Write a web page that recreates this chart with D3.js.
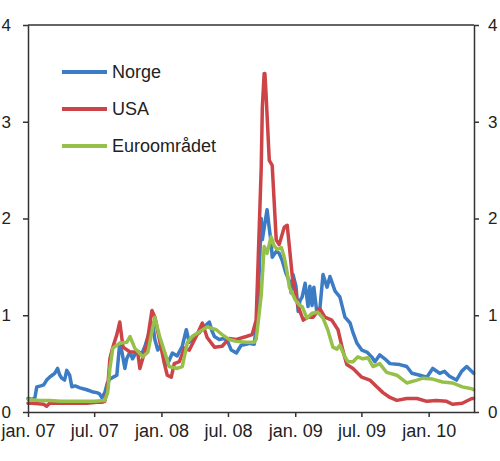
<!DOCTYPE html>
<html>
<head>
<meta charset="utf-8">
<script src="https://cdn.jsdelivr.net/npm/d3@7"></script>
<style>
  html, body { margin: 0; padding: 0; background: #fff; }
  svg { display: block; font-family: 'Liberation Sans', Arial, sans-serif; }
</style>
</head>
<body>
<svg id="chart" width="500" height="461"></svg>
<script>
'use strict';

// ── data (percentage points) ─────────────────────────────────────────────────
const norge = [
  ['2007-01-01', 0.14], ['2007-01-14', 0.13], ['2007-01-20', 0.15], ['2007-01-25', 0.26],
  ['2007-02-05', 0.27], ['2007-02-13', 0.28], ['2007-02-21', 0.33], ['2007-03-01', 0.36],
  ['2007-03-08', 0.38], ['2007-03-15', 0.40], ['2007-03-23', 0.45], ['2007-03-28', 0.39],
  ['2007-04-03', 0.35], ['2007-04-11', 0.33], ['2007-04-17', 0.43], ['2007-04-25', 0.38],
  ['2007-05-01', 0.26], ['2007-05-10', 0.27], ['2007-05-23', 0.25], ['2007-06-01', 0.24],
  ['2007-06-11', 0.23], ['2007-06-25', 0.21], ['2007-07-08', 0.20], ['2007-07-15', 0.19],
  ['2007-07-22', 0.15], ['2007-07-30', 0.20], ['2007-08-06', 0.30], ['2007-08-13', 0.34],
  ['2007-08-22', 0.36], ['2007-09-01', 0.38], ['2007-09-05', 0.55], ['2007-09-09', 0.71],
  ['2007-09-15', 0.62], ['2007-09-23', 0.45], ['2007-09-28', 0.55], ['2007-10-07', 0.62],
  ['2007-10-14', 0.55], ['2007-10-20', 0.59], ['2007-10-28', 0.63], ['2007-11-08', 0.60],
  ['2007-11-17', 0.68], ['2007-11-25', 0.78], ['2007-12-03', 0.85], ['2007-12-08', 0.92],
  ['2007-12-14', 0.75], ['2007-12-22', 0.64], ['2008-01-01', 0.70], ['2008-01-09', 0.61],
  ['2008-01-17', 0.49], ['2008-01-24', 0.55], ['2008-01-31', 0.61], ['2008-02-13', 0.58],
  ['2008-02-27', 0.68], ['2008-03-09', 0.85], ['2008-03-17', 0.72], ['2008-03-25', 0.75],
  ['2008-04-05', 0.80], ['2008-04-14', 0.82], ['2008-04-27', 0.88], ['2008-05-11', 0.93],
  ['2008-05-18', 0.84], ['2008-05-25', 0.78], ['2008-06-07', 0.75], ['2008-06-20', 0.76],
  ['2008-06-29', 0.74], ['2008-07-10', 0.64], ['2008-07-24', 0.61], ['2008-08-06', 0.69],
  ['2008-08-20', 0.70], ['2008-08-28', 0.71], ['2008-09-11', 0.70], ['2008-09-19', 0.98],
  ['2008-09-24', 1.40], ['2008-09-30', 2.00], ['2008-10-03', 1.78], ['2008-10-10', 1.95],
  ['2008-10-16', 2.09], ['2008-10-22', 1.90], ['2008-10-27', 1.75], ['2008-10-30', 1.60],
  ['2008-11-10', 1.66], ['2008-11-18', 1.64], ['2008-11-26', 1.57], ['2008-12-07', 1.43],
  ['2008-12-16', 1.35], ['2008-12-21', 1.23], ['2008-12-26', 1.42], ['2009-01-03', 1.30],
  ['2009-01-09', 1.04], ['2009-01-14', 1.15], ['2009-01-20', 1.19], ['2009-01-28', 1.33],
  ['2009-02-05', 1.09], ['2009-02-10', 1.30], ['2009-02-16', 1.10], ['2009-02-21', 1.29],
  ['2009-03-01', 1.03], ['2009-03-09', 1.05], ['2009-03-18', 1.42], ['2009-03-29', 1.29],
  ['2009-04-06', 1.40], ['2009-04-20', 1.25], ['2009-05-03', 1.19], ['2009-05-17', 0.98],
  ['2009-05-31', 0.92], ['2009-06-08', 0.82], ['2009-06-19', 0.71], ['2009-07-02', 0.64],
  ['2009-07-16', 0.62], ['2009-07-29', 0.57], ['2009-08-07', 0.52], ['2009-08-20', 0.59],
  ['2009-09-03', 0.55], ['2009-09-17', 0.50], ['2009-10-14', 0.49], ['2009-11-02', 0.47],
  ['2009-11-16', 0.40], ['2009-12-08', 0.38], ['2009-12-27', 0.36], ['2010-01-12', 0.45],
  ['2010-01-31', 0.40], ['2010-02-13', 0.42], ['2010-02-27', 0.37], ['2010-03-18', 0.33],
  ['2010-04-01', 0.42], ['2010-04-15', 0.47], ['2010-05-04', 0.40]
];

const usa = [
  ['2007-01-01', 0.09], ['2007-01-14', 0.09], ['2007-02-13', 0.08], ['2007-02-21', 0.06],
  ['2007-03-01', 0.09], ['2007-04-03', 0.09], ['2007-05-01', 0.09], ['2007-06-11', 0.09],
  ['2007-07-08', 0.10], ['2007-07-22', 0.10], ['2007-07-30', 0.11], ['2007-08-07', 0.25],
  ['2007-08-13', 0.55], ['2007-08-21', 0.67], ['2007-09-01', 0.80], ['2007-09-09', 0.93],
  ['2007-09-18', 0.67], ['2007-10-07', 0.62], ['2007-10-28', 0.62], ['2007-11-03', 0.45],
  ['2007-11-22', 0.70], ['2007-12-06', 1.05], ['2007-12-14', 0.98], ['2007-12-27', 0.74],
  ['2008-01-09', 0.50], ['2008-01-17', 0.38], ['2008-01-28', 0.36], ['2008-02-05', 0.50],
  ['2008-02-19', 0.52], ['2008-03-04', 0.66], ['2008-03-17', 0.64], ['2008-04-05', 0.78],
  ['2008-04-22', 0.92], ['2008-05-05', 0.77], ['2008-05-25', 0.67], ['2008-06-15', 0.68],
  ['2008-07-04', 0.76], ['2008-07-24', 0.75], ['2008-08-20', 0.78], ['2008-09-05', 0.80],
  ['2008-09-11', 0.88], ['2008-09-16', 0.95], ['2008-09-21', 1.50], ['2008-09-30', 2.53],
  ['2008-10-03', 3.15], ['2008-10-08', 3.50], ['2008-10-10', 3.50], ['2008-10-13', 3.30],
  ['2008-10-22', 2.60], ['2008-10-30', 2.55], ['2008-11-04', 2.20], ['2008-11-10', 1.78],
  ['2008-11-18', 1.73], ['2008-12-02', 1.91], ['2008-12-10', 1.93], ['2008-12-16', 1.71],
  ['2008-12-24', 1.40], ['2009-01-09', 1.09], ['2009-01-23', 0.95], ['2009-02-05', 0.98],
  ['2009-02-19', 0.98], ['2009-03-09', 1.07], ['2009-03-23', 0.98], ['2009-04-11', 0.95],
  ['2009-04-28', 0.85], ['2009-05-11', 0.64], ['2009-05-22', 0.49], ['2009-06-08', 0.45],
  ['2009-07-02', 0.36], ['2009-07-24', 0.33], ['2009-08-12', 0.26], ['2009-08-29', 0.20],
  ['2009-09-17', 0.15], ['2009-10-06', 0.12], ['2009-11-02', 0.14], ['2009-11-30', 0.14],
  ['2009-12-27', 0.11], ['2010-01-22', 0.12], ['2010-02-19', 0.11], ['2010-03-07', 0.08],
  ['2010-04-03', 0.09], ['2010-04-29', 0.14], ['2010-05-04', 0.14]
];

const euro = [
  ['2007-01-01', 0.13], ['2007-02-01', 0.12], ['2007-03-01', 0.12], ['2007-04-01', 0.11],
  ['2007-05-01', 0.11], ['2007-06-01', 0.11], ['2007-07-01', 0.11], ['2007-07-30', 0.12],
  ['2007-08-07', 0.20], ['2007-08-13', 0.45], ['2007-08-21', 0.66], ['2007-09-09', 0.71],
  ['2007-09-28', 0.72], ['2007-10-07', 0.78], ['2007-10-20', 0.66], ['2007-11-11', 0.57],
  ['2007-11-25', 0.62], ['2007-12-14', 0.98], ['2007-12-27', 0.78], ['2008-01-14', 0.57],
  ['2008-01-22', 0.47], ['2008-02-13', 0.45], ['2008-02-27', 0.47], ['2008-03-12', 0.72],
  ['2008-03-25', 0.78], ['2008-04-14', 0.83], ['2008-05-05', 0.88], ['2008-05-30', 0.85],
  ['2008-06-15', 0.80], ['2008-07-04', 0.75], ['2008-07-24', 0.73], ['2008-08-20', 0.72],
  ['2008-09-11', 0.72], ['2008-09-16', 0.75], ['2008-09-19', 0.84], ['2008-09-30', 1.21],
  ['2008-10-08', 1.71], ['2008-10-16', 1.64], ['2008-10-27', 1.81], ['2008-11-04', 1.72],
  ['2008-11-13', 1.68], ['2008-11-24', 1.70], ['2008-12-02', 1.60], ['2008-12-10', 1.44],
  ['2008-12-16', 1.29], ['2009-01-01', 1.16], ['2009-01-14', 1.10], ['2009-01-20', 1.09],
  ['2009-02-02', 0.97], ['2009-02-16', 1.02], ['2009-03-04', 1.03], ['2009-03-18', 0.97],
  ['2009-03-31', 0.85], ['2009-04-14', 0.67], ['2009-04-25', 0.65], ['2009-05-03', 0.69],
  ['2009-05-17', 0.57], ['2009-05-25', 0.52], ['2009-06-08', 0.52], ['2009-06-21', 0.57],
  ['2009-07-05', 0.55], ['2009-07-19', 0.56], ['2009-08-02', 0.47], ['2009-08-20', 0.50],
  ['2009-09-08', 0.41], ['2009-10-06', 0.38], ['2009-11-02', 0.30], ['2009-11-30', 0.33],
  ['2009-12-16', 0.35], ['2010-01-12', 0.34], ['2010-02-08', 0.31], ['2010-03-07', 0.30],
  ['2010-04-03', 0.26], ['2010-04-29', 0.24], ['2010-05-04', 0.23]
];

const seriesNames = ['Norge', 'USA', 'Euroområdet'];
const seriesColors = ['#3b7cc4', '#cc4448', '#96c04a'];

const tickDates = ['2007-01-01', '2007-07-01', '2008-01-01', '2008-07-01',
                   '2009-01-01', '2009-07-01', '2010-01-01'];
const tickLabels = ['jan. 07', 'jul. 07', 'jan. 08', 'jul. 08',
                    'jan. 09', 'jul. 09', 'jan. 10'];
const yTicks = [0, 1, 2, 3, 4];
const xExtent = ['2007-01-01', '2010-05-05'];

// ── layout ───────────────────────────────────────────────────────────────────
const M = { left: 28, right: 474, top: 25, bottom: 412 };
const AXIS_COLOR = '#333';
const FONT_SIZE = 18;
const Y_FONT_SIZE = 17;

const parse = d3.timeParse('%Y-%m-%d');
const svg = d3.select('#chart');

const x = d3.scaleTime()
  .domain(xExtent.map(parse))
  .range([M.left, M.right]);

const y = d3.scaleLinear()
  .domain([0, 4])
  .range([M.bottom, M.top]);

// ── series lines ─────────────────────────────────────────────────────────────
const line = d3.line()
  .x(d => x(parse(d[0])))
  .y(d => y(d[1]));

[norge, usa, euro].forEach((data, i) => {
  svg.append('path')
    .datum(data)
    .attr('fill', 'none')
    .attr('stroke', seriesColors[i])
    .attr('stroke-width', 3.5)
    .attr('stroke-linejoin', 'round')
    .attr('stroke-linecap', 'round')
    .attr('d', line);
});

// ── axes ─────────────────────────────────────────────────────────────────────
function styleAxis(size) {
  return sel => {
    sel.selectAll('path, line').attr('stroke', AXIS_COLOR).attr('stroke-width', 1.5);
    sel.selectAll('text')
      .attr('fill', '#222')
      .attr('font-size', size)
      .attr('font-family', "'Liberation Sans', Arial, sans-serif");
  };
}

svg.append('g')
  .attr('transform', `translate(${M.left},0)`)
  .call(d3.axisLeft(y).tickValues(yTicks).tickFormat(d3.format('d'))
    .tickSize(5).tickSizeOuter(0).tickPadding(12))
  .call(styleAxis(Y_FONT_SIZE));

svg.append('g')
  .attr('transform', `translate(${M.right},0)`)
  .call(d3.axisRight(y).tickValues(yTicks).tickFormat(d3.format('d'))
    .tickSize(5).tickSizeOuter(0).tickPadding(9))
  .call(styleAxis(Y_FONT_SIZE));

svg.append('g')
  .attr('transform', `translate(0,${M.bottom})`)
  .call(d3.axisBottom(x).tickValues(tickDates.map(parse))
    .tickFormat((d, i) => tickLabels[i])
    .tickSize(5).tickSizeOuter(0).tickPadding(7))
  .call(styleAxis(FONT_SIZE));

// top frame line
svg.append('line')
  .attr('x1', M.left).attr('x2', M.right)
  .attr('y1', y(4)).attr('y2', y(4))
  .attr('stroke', AXIS_COLOR).attr('stroke-width', 1.5);

// ── legend ───────────────────────────────────────────────────────────────────
const legend = svg.append('g').attr('transform', 'translate(62,72)');
seriesNames.forEach((name, i) => {
  const row = legend.append('g').attr('transform', `translate(0,${i * 37})`);
  row.append('line')
    .attr('x1', 0).attr('x2', 45)
    .attr('stroke', seriesColors[i])
    .attr('stroke-width', 4);
  row.append('text')
    .attr('x', 50)
    .attr('dy', '0.35em')
    .attr('font-size', FONT_SIZE)
    .attr('fill', '#222')
    .text(name);
});
</script>
</body>
</html>
